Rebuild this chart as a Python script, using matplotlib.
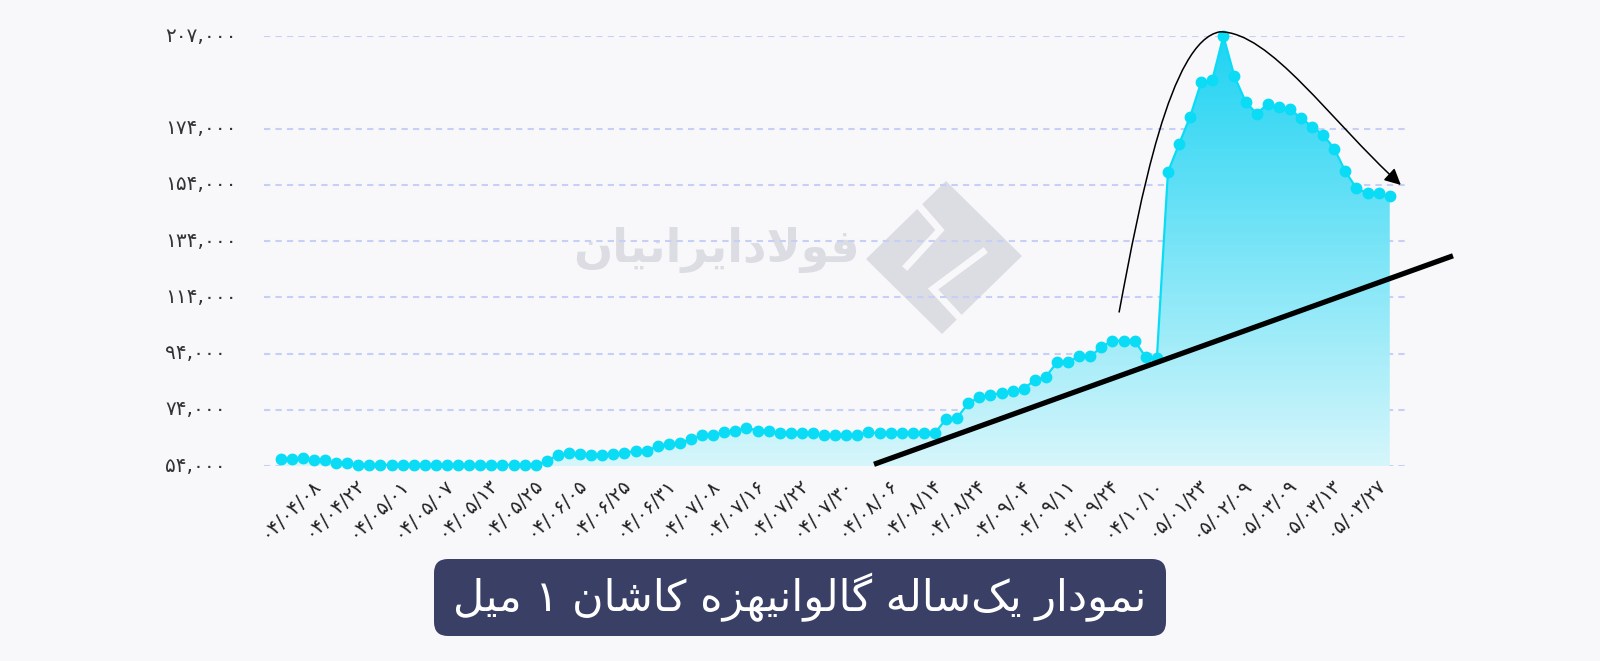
import numpy as np
import matplotlib
matplotlib.use("Agg")
import matplotlib.pyplot as plt
from matplotlib.path import Path
from matplotlib.patches import FancyArrowPatch, FancyBboxPatch, Polygon, PathPatch
from matplotlib.colors import LinearSegmentedColormap
from matplotlib.transforms import Affine2D, ScaledTranslation, blended_transform_factory

# قیمت روزانه (تومان)
prices = [56400, 56600, 56900, 56000, 56000, 55000, 55000,
          54400, 54400, 54400, 54400, 54400, 54400, 54400, 54400,
          54400, 54400, 54400, 54400, 54400, 54400, 54400, 54400, 54400,
          55700, 58000, 58500, 58100, 57800, 57900, 58400, 58700, 59400, 59400,
          61100, 61900, 62200, 63500, 65100, 65000, 66100, 66500, 67700, 66500,
          66500, 65600, 65600, 65600, 65600, 65000, 65000, 65000, 65000, 66100,
          65600, 65600, 65600, 65600, 65600, 65800, 70700, 71200, 76300, 78500,
          79300, 80000, 80700, 81500, 84600, 85800, 90900, 91100, 93000, 93000,
          96300, 98600, 98600, 98600, 92700, 92300,
          158600, 168500, 178300, 190600, 191400, 207000, 192600, 183700,
          179300, 182900, 181700, 181000, 177800, 174800, 171800, 166900,
          158800, 152800, 151100, 151100, 149900]

tick_labels = ["۰۴/۰۴/۰۸", "۰۴/۰۴/۲۲", "۰۴/۰۵/۰۱", "۰۴/۰۵/۰۷", "۰۴/۰۵/۱۳",
               "۰۴/۰۵/۲۵", "۰۴/۰۶/۰۵", "۰۴/۰۶/۲۵", "۰۴/۰۶/۳۱", "۰۴/۰۷/۰۸",
               "۰۴/۰۷/۱۶", "۰۴/۰۷/۲۲", "۰۴/۰۷/۳۰", "۰۴/۰۸/۰۶", "۰۴/۰۸/۱۴",
               "۰۴/۰۸/۲۴", "۰۴/۰۹/۰۴", "۰۴/۰۹/۱۱", "۰۴/۰۹/۲۴", "۰۴/۱۰/۱۰",
               "۰۵/۰۱/۲۳", "۰۵/۰۲/۰۹", "۰۵/۰۳/۰۹", "۰۵/۰۳/۱۳", "۰۵/۰۳/۲۷"]

yticks = [54000, 74000, 94000, 114000, 134000, 154000, 174000, 207000]

title = "نمودار یک\u200cساله گالوانیهزه کاشان ۱ میل"
brand = "فولادایرانیان"

# خط روند و فلش (مختصات داده)
trend_x = [53.5, 105.7]
trend_y = [54600, 128800]
arrow_pts = [(75.6, 108800), (77.5, 148700), (80.2, 205600), (84.7, 208500),
             (89.2, 208500), (94.6, 177100), (101.0, 154000)]

# --- شکل‌دهی ساده حروف فارسی (matplotlib خودش این کار را نمی‌کند)
FORMS = {
    "ا": (0xFE8D, 0xFE8E), "د": (0xFEA9, 0xFEAA), "ر": (0xFEAD, 0xFEAE),
    "ز": (0xFEAF, 0xFEB0), "و": (0xFEED, 0xFEEE),
    "س": (0xFEB1, 0xFEB2, 0xFEB3, 0xFEB4), "ش": (0xFEB5, 0xFEB6, 0xFEB7, 0xFEB8),
    "ف": (0xFED1, 0xFED2, 0xFED3, 0xFED4), "ل": (0xFEDD, 0xFEDE, 0xFEDF, 0xFEE0),
    "م": (0xFEE1, 0xFEE2, 0xFEE3, 0xFEE4), "ن": (0xFEE5, 0xFEE6, 0xFEE7, 0xFEE8),
    "ه": (0xFEE9, 0xFEEA, 0xFEEB, 0xFEEC), "ی": (0xFBFC, 0xFBFD, 0xFBFE, 0xFBFF),
    "ک": (0xFB8E, 0xFB8F, 0xFB90, 0xFB91), "گ": (0xFB92, 0xFB93, 0xFB94, 0xFB95),
}


def shape(s):
    out = []
    i = 0
    while i < len(s):
        c = s[i]
        if c not in FORMS:
            if c != "\u200c":
                out.append(c)
            i += 1
            continue
        prev = s[i - 1] if i > 0 else ""
        jp = prev in FORMS and len(FORMS[prev]) == 4
        if c == "ل" and i + 1 < len(s) and s[i + 1] == "ا":
            out.append(chr(0xFEFC if jp else 0xFEFB))
            i += 2
            continue
        nxt = s[i + 1] if i + 1 < len(s) else ""
        jn = len(FORMS[c]) == 4 and nxt in FORMS
        f = FORMS[c]
        if jp and jn:
            out.append(chr(f[3]))
        elif jp:
            out.append(chr(f[1]))
        elif jn:
            out.append(chr(f[2]))
        else:
            out.append(chr(f[0]))
        i += 1
    return "".join(reversed(out))


def fa_num(v):
    return f"{v:,}".translate(str.maketrans("0123456789", "۰۱۲۳۴۵۶۷۸۹"))


plt.rcParams["font.family"] = ["DejaVu Sans"]

fig = plt.figure(figsize=(16, 6.61), dpi=100)
fig.patch.set_facecolor("#f8f8fb")
px = Affine2D().scale(1 / 1600, -1 / 661).translate(0, 1) + fig.transFigure

# واترمارک
fig.text(716 / 1600, 1 - 250 / 661, shape(brand), fontsize=33, weight="bold",
         color="#dcdce3", ha="center", va="center", zorder=-2)
fig.add_artist(Polygon([(866, 259), (946, 181), (1022, 256), (942, 334)],
                       closed=True, transform=px, facecolor="#dcdce3",
                       edgecolor="none", zorder=-2))
for pts in [[(920, 207), (940, 230), (907, 266)], [(983, 252), (933, 289), (958, 316)]]:
    xs, ys = zip(*pts)
    fig.add_artist(plt.Line2D(xs, ys, transform=px, color="#f8f8fb", lw=5,
                              solid_joinstyle="miter", zorder=-1))

ax = fig.add_axes([0.165, 0.295, 0.714, 0.6505])
ax.set_facecolor("none")
x = np.arange(len(prices))

for v in yticks:
    ax.axhline(v, color="#c6cff5", lw=1.5, ls=(0, (3, 2.5)), zorder=0)

# پر کردن زیر نمودار با گرادیان
poly = ax.fill_between(x, prices, 54000, color="none")
clip = PathPatch(poly.get_paths()[0], transform=ax.transData,
                 facecolor="none", edgecolor="none")
ax.add_patch(clip)
cmap = LinearSegmentedColormap.from_list("g", ["#d6f6fb", "#1fd3f3"])
grad = np.linspace(0, 1, 256).reshape(-1, 1)
im = ax.imshow(grad, extent=[-1.5, 101.5, 54000, 207000], origin="lower",
               aspect="auto", cmap=cmap, zorder=1)
im.set_clip_path(clip)

ax.plot(x, prices, color="#0adcf6", lw=1.6, marker="o", ms=7.5, zorder=3,
        clip_on=False)

ax.plot(trend_x, trend_y, color="black", lw=3.8, solid_capstyle="butt",
        clip_on=False, zorder=4)

codes = [Path.MOVETO] + [Path.CURVE4] * 6
arrow = FancyArrowPatch(path=Path(arrow_pts, codes),
                        arrowstyle="-|>,head_length=0.7,head_width=0.35",
                        mutation_scale=14, lw=1.1, color="black",
                        transform=ax.transData, clip_on=False, zorder=5)
ax.add_patch(arrow)

ax.set_xlim(-1.5, 101.5)
ax.set_ylim(54000, 207000)
for s in ax.spines.values():
    s.set_visible(False)

ax.set_yticks([])
trans = blended_transform_factory(fig.transFigure, ax.transData)
for v in yticks:
    ax.text(165 / 1600, v, fa_num(v), transform=trans, ha="left", va="center",
            fontsize=14.5, color="#333333")

ax.set_xticks(np.arange(0, 100, 4))
ax.set_xticklabels(tick_labels, rotation=45, ha="right", va="top",
                   rotation_mode="anchor", fontsize=14, color="#222222")
ax.tick_params(axis="x", length=0, pad=6)
off = ScaledTranslation(30 / 100, 0, fig.dpi_scale_trans)
for lbl in ax.get_xticklabels():
    lbl.set_transform(lbl.get_transform() + off)

# عنوان پایین
fig.add_artist(FancyBboxPatch((434, 559), 732, 77,
                              boxstyle="round,pad=0,rounding_size=14",
                              transform=px, facecolor="#3a3f66", edgecolor="none"))
fig.text(0.5, 1 - 597 / 661, shape(title), ha="center", va="center",
         color="white", fontsize=31)

fig.savefig("out.png", dpi=100, facecolor=fig.get_facecolor())
